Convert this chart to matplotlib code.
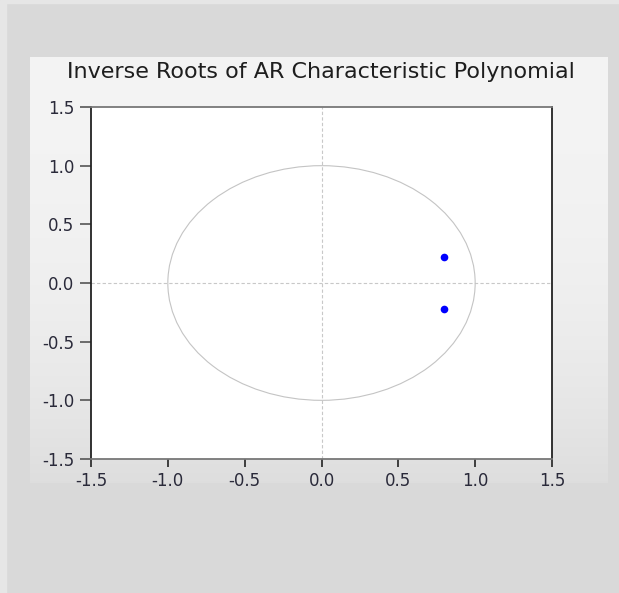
import numpy as np
import matplotlib
matplotlib.use("Agg")
import matplotlib.pyplot as plt
from matplotlib.patches import Circle, Rectangle

# inverse roots
root_re = [0.80, 0.80]
root_im = [0.225, -0.225]

ticks = [-1.5, -1.0, -0.5, 0.0, 0.5, 1.0, 1.5]
tick_labels = ["-1.5", "-1.0", "-0.5", "0.0", "0.5", "1.0", "1.5"]

title = "Inverse Roots of AR Characteristic Polynomial"


def main():
    plt.rcParams['font.family'] = ['DejaVu Sans']
    plt.rcParams['axes.unicode_minus'] = False

    W, H = 619, 593
    fig = plt.figure(figsize=(W / 100, H / 100), dpi=100, facecolor='#d9d9d9')

    # light frame strips at the edge
    fig.patches.append(Rectangle((0, 0), 6 / W, 1, transform=fig.transFigure,
                                 color='#e6e6e6', zorder=0))
    fig.patches.append(Rectangle((0, 1 - 3 / H), 1, 3 / H, transform=fig.transFigure,
                                 color='#e6e6e6', zorder=0))

    # panel with soft vertical gradient
    bg = fig.add_axes([30 / W, 1 - 483 / H, (608 - 30) / W, (483 - 57) / H], zorder=0)
    grad = np.linspace(0, 1, 200).reshape(-1, 1)
    top = np.array([0.955, 0.955, 0.955])
    bot = np.array([0.87, 0.87, 0.87])
    img = top + (bot - top) * grad[:, :, None] ** 2.5
    img = np.repeat(img, 2, axis=1)
    bg.imshow(img, aspect='auto', extent=[0, 1, 0, 1])
    bg.axis('off')

    ax = fig.add_axes([91 / W, 1 - 459 / H, (552 - 91) / W, (459 - 107) / H], zorder=1)
    ax.set_facecolor('white')
    ax.set_xlim(-1.5, 1.5)
    ax.set_ylim(-1.5, 1.5)

    ax.axhline(0, color='#c8c8c8', lw=0.8, ls=(0, (3, 2)), zorder=1)
    ax.axvline(0, color='#c8c8c8', lw=0.8, ls=(0, (3, 2)), zorder=1)
    ax.add_patch(Circle((0, 0), 1.0, fill=False, edgecolor='#c4c4c4', lw=0.8, zorder=2))

    ax.plot(root_re, root_im, 'o', color='#0000ff', markersize=5.5,
            markeredgewidth=0, zorder=3)

    ax.set_xticks(ticks)
    ax.set_xticklabels(tick_labels)
    ax.set_yticks(ticks)
    ax.set_yticklabels(tick_labels)
    ax.tick_params(axis='y', direction='out', length=8, width=1.2, pad=4,
                   labelsize=12, colors='#555555', labelcolor='#2a2a3a')
    ax.tick_params(axis='x', direction='out', length=6, width=1.2, pad=3,
                   labelsize=12, colors='#222222', labelcolor='#2a2a3a')

    for side in ['left', 'right']:
        ax.spines[side].set_color('#222222')
        ax.spines[side].set_linewidth(1.3)
    for side in ['top', 'bottom']:
        ax.spines[side].set_color('#777777')
        ax.spines[side].set_linewidth(1.3)

    fig.text(321 / W, 1 - 72 / H, title, ha='center', va='center',
             fontsize=16, color='#1e1e1e')

    plt.savefig("out.png", dpi=100, facecolor=fig.get_facecolor())


if __name__ == "__main__":
    main()
